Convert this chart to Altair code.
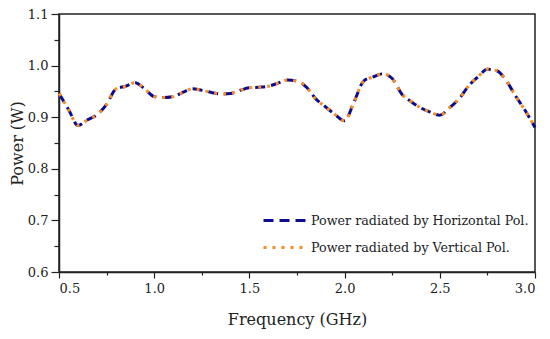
import altair as alt
import pandas as pd

freq = [0.5, 0.55, 0.6, 0.65, 0.7, 0.75, 0.8, 0.85, 0.9, 0.95, 1.0, 1.05, 1.1, 1.15, 1.2, 1.25,
        1.3, 1.35, 1.4, 1.45, 1.5, 1.55, 1.6, 1.65, 1.7, 1.75, 1.8, 1.85, 1.9, 1.95, 2.0, 2.05,
        2.1, 2.15, 2.2, 2.25, 2.3, 2.35, 2.4, 2.45, 2.5, 2.55, 2.6, 2.65, 2.7, 2.75, 2.8, 2.85,
        2.9, 2.95, 3.0]
power_h = [0.946, 0.915, 0.884, 0.895, 0.905, 0.925, 0.955, 0.960, 0.967, 0.955, 0.940, 0.938,
           0.940, 0.948, 0.955, 0.952, 0.948, 0.945, 0.946, 0.952, 0.957, 0.958, 0.960, 0.966,
           0.972, 0.970, 0.958, 0.935, 0.920, 0.905, 0.893, 0.930, 0.970, 0.978, 0.984, 0.975,
           0.945, 0.930, 0.918, 0.910, 0.904, 0.918, 0.935, 0.960, 0.978, 0.993, 0.990, 0.970,
           0.940, 0.912, 0.880]
power_v = list(power_h)
series_names = ["Power radiated by Horizontal Pol.", "Power radiated by Vertical Pol."]
colors = ["#0c0c8f", "#fb8c23"]
dashes = [[10, 6], [3, 6]]

x_major = [0.5, 1.0, 1.5, 2.0, 2.5, 3.0]
x_minor = [0.75, 1.25, 1.75, 2.25, 2.75]
y_major = [0.6, 0.7, 0.8, 0.9, 1.0, 1.1]
y_minor = [0.65, 0.75, 0.85, 0.95, 1.05]

FONT = "DejaVu Serif"

rows = []
for name, vals in zip(series_names, [power_h, power_v]):
    for f, p in zip(freq, vals):
        rows.append({"f": f, "p": p, "series": name})
df = pd.DataFrame(rows)

xscale = alt.Scale(domain=[0.5, 3.0], nice=False, zero=False)
yscale = alt.Scale(domain=[0.6, 1.1], nice=False, zero=False)

legend_cfg = dict(title=None, orient="none", legendX=214, legendY=194, symbolType="M-2,0H2",
                  symbolSize=484, symbolStrokeWidth=3, labelFontSize=12.7, labelFont=FONT,
                  labelColor="#222222", rowPadding=7, padding=0, labelOffset=13, labelLimit=0)

base = alt.Chart(df)
lines = base.mark_line(strokeWidth=3, interpolate="monotone").encode(
    x=alt.X("f:Q", scale=xscale,
            axis=alt.Axis(values=x_major, format=".1f", title="Frequency (GHz)", tickSize=6,
                          labelPadding=4, titlePadding=16, grid=False, orient="bottom")),
    y=alt.Y("p:Q", scale=yscale,
            axis=alt.Axis(values=y_major, format=".1f", title="Power (W)", tickSize=8,
                          labelPadding=3, grid=False, orient="left",
                          titleX=-42, titleBaseline="middle")),
    color=alt.Color("series:N", scale=alt.Scale(domain=series_names, range=colors),
                    legend=alt.Legend(**legend_cfg)),
    strokeDash=alt.StrokeDash("series:N", scale=alt.Scale(domain=series_names, range=dashes),
                              legend=alt.Legend(**legend_cfg)),
)

minor = base.mark_line(opacity=0).encode(
    x=alt.X("f:Q", scale=xscale,
            axis=alt.Axis(values=x_minor, labels=False, tickSize=3, domain=False, title=None,
                          grid=False, orient="bottom")),
    y=alt.Y("p:Q", scale=yscale,
            axis=alt.Axis(values=y_minor, labels=False, tickSize=5, domain=False, title=None,
                          grid=False, orient="left")),
)

chart = alt.layer(lines, minor).resolve_axis(x="independent", y="independent").properties(
    width=476, height=258,
    autosize=alt.AutoSizeParams(type="none"),
    padding={"left": 51, "top": 6, "right": 6, "bottom": 60},
).configure(font=FONT).configure_view(
    stroke="#222222", strokeWidth=1.5
).configure_axis(
    labelFont=FONT, titleFont=FONT, labelFontSize=13,
    titleFontSize=16, titleFontWeight="normal", labelColor="#222222", titleColor="#222222",
    domainColor="#222222", tickColor="#222222", domainWidth=1.5, tickWidth=1.2
)

chart.save("out.html", embed_options={"renderer": "svg", "actions": False})
